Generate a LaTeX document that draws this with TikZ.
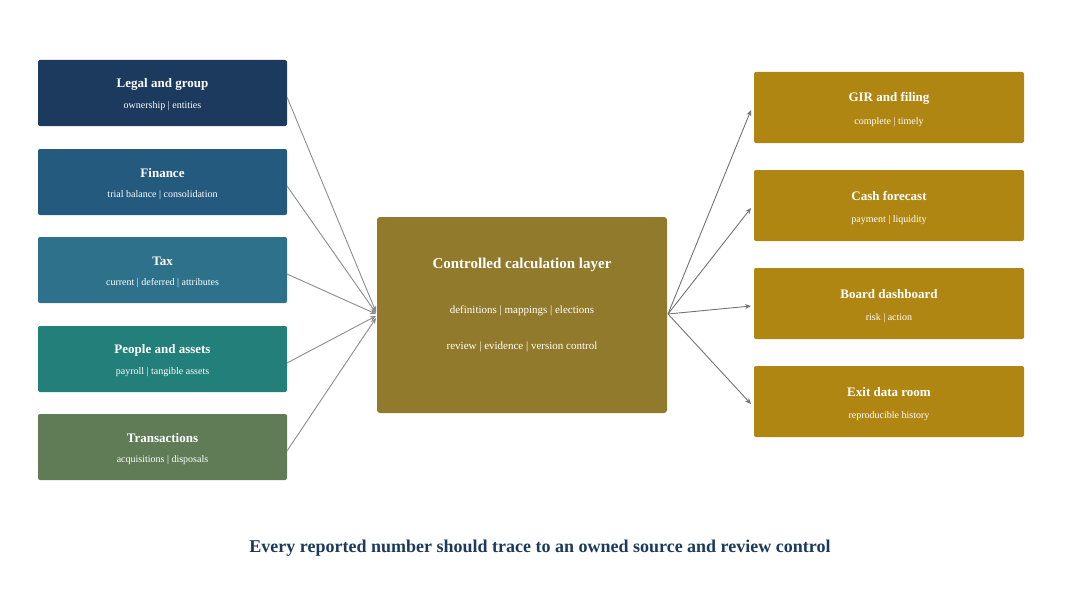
\documentclass[tikz,border=0pt]{standalone}
\usepackage{fontspec}
\setmainfont{Liberation Serif}
\usetikzlibrary{arrows.meta}
\definecolor{c1}{HTML}{1B3A5E}
\definecolor{c2}{HTML}{245A7E}
\definecolor{c3}{HTML}{2E718A}
\definecolor{c4}{HTML}{237F7A}
\definecolor{c5}{HTML}{5F7C57}
\definecolor{ccmid}{HTML}{927A2C}
\definecolor{cr}{HTML}{B08612}
\begin{document}
\begin{tikzpicture}[x=1pt,y=-1pt,
 ttl/.style={font=\bfseries\fontsize{13}{15}\selectfont},
 sub/.style={font=\fontsize{10}{12}\selectfont},
 la/.style={draw=gray!90,line width=0.9pt,-{Stealth[length=6pt,width=5pt]}},
 ra/.style={draw=black!55,line width=0.9pt,-{Stealth[length=6pt,width=5pt]}}]
\useasboundingbox (0,0) rectangle (1080,610);
\foreach \n/\y/\c/\t/\s in {l1/60/c1/Legal and group/ownership | entities,
 l2/149/c2/Finance/trial balance | consolidation,
 l3/237/c3/Tax/current | deferred | attributes,
 l4/326/c4/People and assets/payroll | tangible assets,
 l5/414/c5/Transactions/acquisitions | disposals}{
 \fill[fill=\c,rounded corners=2pt] (38,\y) rectangle (287,\y+66);
 \node[ttl,text=white] at (162.5,\y+24) {\t};
 \node[sub,text=white] at (162.5,\y+46) {\s};
 \coordinate (\n) at (287,\y+37);
}
\fill[fill=ccmid,rounded corners=3pt] (377,217) rectangle (667,413);
\node[text=white,font=\bfseries\fontsize{15}{18}\selectfont] (cm1) at (522,265) {Controlled calculation layer};
\node[text=white,font=\fontsize{11}{13}\selectfont] (cm2) at (522,311) {definitions | mappings | elections};
\node[text=white,font=\fontsize{11}{13}\selectfont] (cm3) at (522,347) {review | evidence | version control};
\coordinate (cout) at (668,314);
\foreach \n/\y/\t/\s in {r1/72/GIR and filing/complete | timely,
 r2/170/Cash forecast/payment | liquidity,
 r3/268/Board dashboard/risk | action,
 r4/366/Exit data room/reproducible history}{
 \fill[fill=cr,rounded corners=2pt] (754,\y) rectangle (1024,\y+71);
 \node[ttl,text=white] at (889,\y+26) {\t};
 \node[sub,text=white] at (889,\y+50) {\s};
 \coordinate (\n) at (751,\y+38);
}
\coordinate (i1) at (376,312);
\coordinate (i2) at (376,313);
\coordinate (i3) at (376,314);
\coordinate (i4) at (376,316);
\coordinate (i5) at (376,318);
\foreach \k in {1,...,5} \draw[la] (l\k) -- (i\k);
\foreach \r in {r1,r2,r3,r4} \draw[ra] (cout) -- (\r);
\node[text=c1,font=\bfseries\fontsize{18}{21}\selectfont] (t) at (540,548) {Every reported number should trace to an owned source and review control};
\end{tikzpicture}
\end{document}
